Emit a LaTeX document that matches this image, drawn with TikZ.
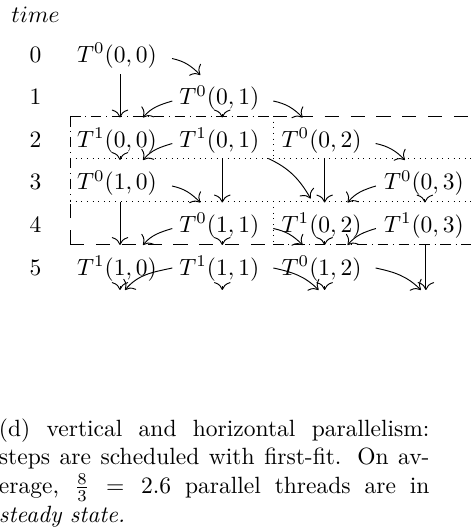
\documentclass[tikz,border=0pt]{standalone}
\usetikzlibrary{calc,arrows.meta}
\tikzset{
  tn/.style={anchor=base, inner sep=0pt},
  tl/.style={anchor=base, inner sep=0pt},
  arr/.style={-{To[scale=1.35]}, line width=0.4pt},
  dashedbox/.style={line width=0.4pt, dash pattern=on 6pt off 5pt},
  dashdotbox/.style={line width=0.4pt, dash pattern=on 4.5pt off 2pt on 0.4pt off 2pt},
  dottedbox/.style={line width=0.4pt, dotted},
}
\begin{document}
\begin{tikzpicture}[x=0.4255pt, y=0.4255pt]
\useasboundingbox (0,0) rectangle (471,-527);

% time axis
\node[anchor=base west, inner sep=0pt] (time) at (11,-23) {$time$};
\foreach \r in {0,...,5} \node[tl] (t\r) at (35.5, {-62.5-42.5*\r}) {$\r$};

% tasks
\node[tn] (a00) at (117,-62.5)   {$T^0(0,0)$};
\node[tn] (a01) at (219.3,-105)  {$T^0(0,1)$};
\node[tn] (b00) at (117,-147.5)  {$T^1(0,0)$};
\node[tn] (b01) at (219.3,-147.5){$T^1(0,1)$};
\node[tn] (a02) at (321.6,-147.5){$T^0(0,2)$};
\node[tn] (a10) at (117,-190)    {$T^0(1,0)$};
\node[tn] (a03) at (423.9,-190)  {$T^0(0,3)$};
\node[tn] (a11) at (219.3,-232.5){$T^0(1,1)$};
\node[tn] (b02) at (321.6,-232.5){$T^1(0,2)$};
\node[tn] (b03) at (423.9,-232.5){$T^1(0,3)$};
\node[tn] (b10) at (117,-275)    {$T^1(1,0)$};
\node[tn] (b11) at (219.3,-275)  {$T^1(1,1)$};
\node[tn] (a12) at (321.6,-275)  {$T^0(1,2)$};

\coordinate (e0) at (117,-290);
\coordinate (e1) at (219.3,-290);
\coordinate (e2) at (321.6,-290);
\coordinate (e3) at (423.9,-290);

% steady-state frames
\draw[dashdotbox] (70,-116) -- (273,-116);
\draw[dashdotbox] (70,-116) -- (70,-201.5);
\draw[dashedbox] (273,-116) -- (472,-116);
\draw[dashedbox] (70,-244) -- (70,-201.5);
\draw[dashedbox] (70,-244) -- (273,-244);
\draw[dashdotbox] (273,-244) -- (472,-244);
\draw[dottedbox] (70,-158.8) -- (472,-158.8);
\draw[dottedbox] (70,-201.5) -- (472,-201.5);
\draw[dottedbox] (273,-116) -- (273,-158.8);
\draw[dottedbox] (273,-201.5) -- (273,-244);

% right diagonals
\draw[arr] ($(a00.base)+(55,4)$) to[out=-12,in=135] ($(a01.base)+(-19,30)$);
\draw[arr] ($(a01.base)+(54,4)$) to[out=-12,in=135] ($(a02.base)+(-19,30)$);
\draw[arr] ($(a02.base)+(54,4)$) to[out=-12,in=135] ($(a03.base)+(-19,30)$);
\draw[arr] ($(a10.base)+(55,4)$) to[out=-12,in=135] ($(a11.base)+(-19,30)$);
\draw[arr] ($(a11.base)+(54,4)$) to[out=-12,in=135] ($(a12.base)+(-19,30)$);
\draw[arr] ($(b01.base)+(49,-11)$) to[out=-25,in=120] ($(b02.base)+(-11,34)$);
\draw[arr] ($(b11.base)+(54,7)$) to[out=-12,in=135] ($(e2)+(-3,0)$);
\draw[arr] ($(a12.base)+(54,7)$) to[out=-12,in=135] ($(e3)+(-3,0)$);

% left diagonals
\draw[arr] ($(a01.base)+(-47,4)$) to[out=197,in=50] ($(b00.base)+(26,30)$);
\draw[arr] ($(b01.base)+(-47,4)$) to[out=197,in=50] ($(a10.base)+(26,30)$);
\draw[arr] ($(a03.base)+(-48,4)$) to[out=197,in=50] ($(b02.base)+(26,30)$);
\draw[arr] ($(a11.base)+(-47,4)$) to[out=197,in=50] ($(b10.base)+(26,30)$);
\draw[arr] ($(b03.base)+(-48,4)$) to[out=197,in=50] ($(a12.base)+(26,30)$);
\draw[arr] ($(b11.base)+(-47,7)$) to[out=192,in=50] ($(e0)+(8,0)$);

% long verticals
\draw[arr] ($(a00.base)+(3,-12)$) -- ($(b00.base)+(3,30)$);
\draw[arr] ($(b01.base)+(3,-12)$) -- ($(a11.base)+(3,30)$);
\draw[arr] ($(a02.base)+(3,-12)$) -- ($(b02.base)+(3,30)$);
\draw[arr] ($(a10.base)+(3,-12)$) -- ($(b10.base)+(3,30)$);
\draw[arr] ($(b03.base)+(2,-12)$) -- ($(e3)+(2,0)$);

% short verticals
\draw[arr] ($(a01.base)+(3,-9)$) -- ($(b01.base)+(3,30)$);
\draw[arr] ($(b00.base)+(3,-9)$) -- ($(a10.base)+(3,30)$);
\draw[arr] ($(a03.base)+(1,-9)$) -- ($(b03.base)+(1,30)$);
\draw[arr] ($(a11.base)+(3,-9)$) -- ($(b11.base)+(3,30)$);
\draw[arr] ($(b02.base)+(3,-9)$) -- ($(a12.base)+(3,30)$);
\draw[arr] ($(b10.base)+(3,-11.5)$) -- ($(e0)+(3,0)$);
\draw[arr] ($(b11.base)+(3,-11.5)$) -- ($(e1)+(3,0)$);
\draw[arr] ($(a12.base)+(3,-11.5)$) -- ($(e2)+(3,0)$);

% caption
\node[anchor=north west, text width=183.2pt, inner sep=0pt, align=justify] (cap) at (-1.5,-418)
 {\baselineskip=12.2pt (d) vertical and horizontal parallelism:\linebreak
  steps are scheduled with first-fit. On av-\linebreak
  erage, $\frac{8}{3} = 2.6$ parallel threads are in\linebreak
  \textit{steady state.}\par};
\end{tikzpicture}
\end{document}
